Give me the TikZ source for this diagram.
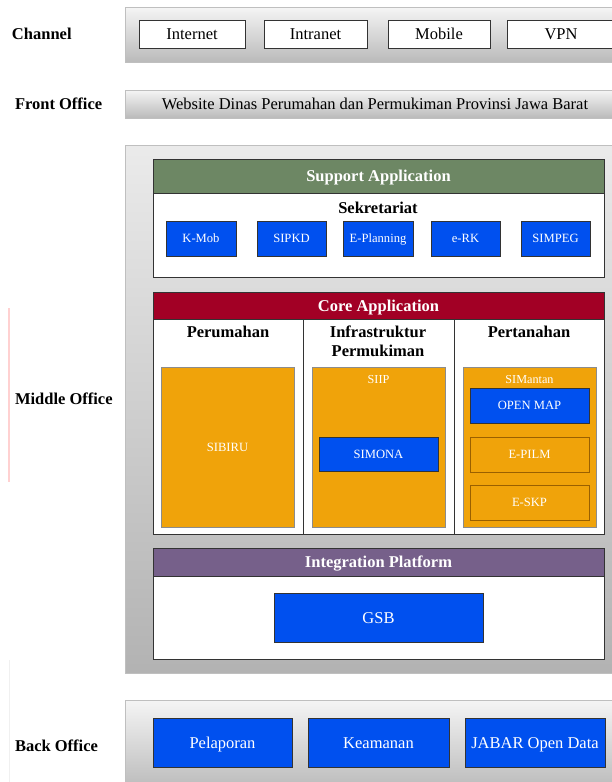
\documentclass[tikz,border=0pt]{standalone}
\usepackage{fontspec}
\setmainfont{Liberation Serif}
\definecolor{dblue}{HTML}{0050EF}
\definecolor{dorange}{HTML}{F0A30A}
\definecolor{dorangeb}{HTML}{9A6000}
\definecolor{dgreen}{HTML}{6D8764}
\definecolor{dred}{HTML}{A20025}
\definecolor{dpurple}{HTML}{76608A}
\definecolor{edge}{HTML}{333333}
\begin{document}
\begin{tikzpicture}[x=1pt,y=-1pt,
  every node/.style={inner sep=0pt,outer sep=0pt},
  fixb/.style={text height=11.2pt,text depth=0pt},
  fixs/.style={text height=8.6pt,text depth=0pt},
  grayband/.style={anchor=north west,draw=black!25,line width=0.8pt,top color=black!4,bottom color=black!27},
  whitebox/.style={anchor=north west,draw=edge,fill=white,line width=0.7pt,big},
  bluebox/.style={anchor=north west,draw=edge,fill=dblue,text=white,line width=0.7pt},
  orangebox/.style={anchor=north west,draw=black!45,fill=dorange,text=white,line width=0.7pt},
  subbox/.style={anchor=north west,draw=dorangeb,fill=dorange,text=white,line width=0.8pt,small},
  header/.style={anchor=north west,draw=edge,text=white,line width=0.7pt,fixb,font=\bfseries\fontsize{16.5}{18}\selectfont},
  body/.style={anchor=north west,draw=edge,fill=white,line width=0.8pt},
  sidelabel/.style={anchor=west,fixb,font=\bfseries\fontsize{16.5}{18}\selectfont},
  colhead/.style={font=\bfseries\fontsize{16.5}{19}\selectfont,align=center,anchor=north},
  small/.style={fixs,font=\fontsize{12.6}{14}\selectfont},
  tiny/.style={fixs,font=\fontsize{12.2}{14}\selectfont},
  big/.style={fixb,font=\fontsize{16.5}{18}\selectfont}
]
\useasboundingbox (0,0) rectangle (611,782);
\fill[white] (0,0) rectangle (611,782);

% side labels
\node[sidelabel] (lchannel) at (12,34) {Channel};
\node[sidelabel] (lfront) at (15,104) {Front Office};
\node[sidelabel] (lmiddle) at (15,399) {Middle Office};
\node[sidelabel] (lback) at (15,746) {Back Office};
\draw[red!18,line width=1.5pt] (9,308) -- (9,482);
\draw[black!6,line width=1pt] (9,660) -- (9,782);

% Channel
\node[grayband,minimum width=492,minimum height=55] (channel) at (125,7) {};
\node[whitebox,minimum width=106,minimum height=28] (internet) at (139,20) {Internet};
\node[whitebox,minimum width=103,minimum height=28] (intranet) at (264,20) {Intranet};
\node[whitebox,minimum width=102,minimum height=28] (mobile) at (388,20) {Mobile};
\node[whitebox,minimum width=108,minimum height=28] (vpn) at (507,20) {VPN};

% Front office
\node[grayband,minimum width=492,minimum height=28] (front) at (125,90) {};
\node[big] (fronttext) at (375,104) {Website Dinas Perumahan dan Permukiman Provinsi Jawa Barat};

% Middle office
\node[grayband,minimum width=492,minimum height=528,top color=black!8,bottom color=black!30] (middle) at (125,145) {};

% Support application
\node[header,fill=dgreen,minimum width=451,minimum height=34] (support) at (153,159) {Support Application};
\node[body,minimum width=451,minimum height=84] (supbody) at (153,193) {};
\node[colhead] (sekr) at (378,202) {Sekretariat};
\node[bluebox,small,minimum width=70,minimum height=35] (kmob) at (166,221) {K-Mob};
\node[bluebox,small,minimum width=69,minimum height=35] (sipkd) at (257,221) {SIPKD};
\node[bluebox,small,minimum width=70,minimum height=35] (eplan) at (343,221) {E-Planning};
\node[bluebox,small,minimum width=69,minimum height=35] (erk) at (431,221) {e-RK};
\node[bluebox,small,minimum width=69,minimum height=35] (simpeg) at (521,221) {SIMPEG};

% Core application
\node[header,fill=dred,minimum width=451,minimum height=27] (core) at (153,292) {Core Application};
\node[body,minimum width=451,minimum height=215] (corebody) at (153,319) {};
\draw[edge,line width=0.8pt] (303,319) -- (303,534);
\draw[edge,line width=0.8pt] (454,319) -- (454,534);
\node[colhead] (perum) at (228,326) {Perumahan};
\node[colhead] (infra) at (378,326) {Infrastruktur\\Permukiman};
\node[colhead] (pertan) at (529,326) {Pertanahan};

\node[orangebox,small,minimum width=133,minimum height=160] (sibiru) at (161,367) {SIBIRU};
\node[orangebox,minimum width=133,minimum height=160] (siip) at (312,367) {};
\node[tiny,text=white] (siiplabel) at (378.5,379) {SIIP};
\node[bluebox,small,minimum width=119,minimum height=34] (simona) at (319,437) {SIMONA};

\node[orangebox,minimum width=133,minimum height=160] (simantan) at (463,367) {};
\node[tiny,text=white] (simlabel) at (529.5,379) {SIMantan};
\node[bluebox,small,minimum width=119,minimum height=35] (openmap) at (470,388) {OPEN MAP};
\node[subbox,minimum width=119,minimum height=35] (epilm) at (470,437) {E-PILM};
\node[subbox,minimum width=119,minimum height=35] (eskp) at (470,485) {E-SKP};

% Integration platform
\node[header,fill=dpurple,minimum width=451,minimum height=28] (integ) at (153,548) {Integration Platform};
\node[body,minimum width=451,minimum height=83] (integbody) at (153,576) {};
\node[bluebox,big,minimum width=209,minimum height=49] (gsb) at (274,593) {GSB};

% Back office
\node[grayband,minimum width=492,minimum height=90] (back) at (125,700) {};
\node[bluebox,big,minimum width=139,minimum height=49] (pelaporan) at (153,718) {Pelaporan};
\node[bluebox,big,minimum width=141,minimum height=49] (keamanan) at (308,718) {Keamanan};
\node[bluebox,big,minimum width=140,minimum height=49] (jabar) at (465,718) {JABAR Open Data};
\end{tikzpicture}
\end{document}
